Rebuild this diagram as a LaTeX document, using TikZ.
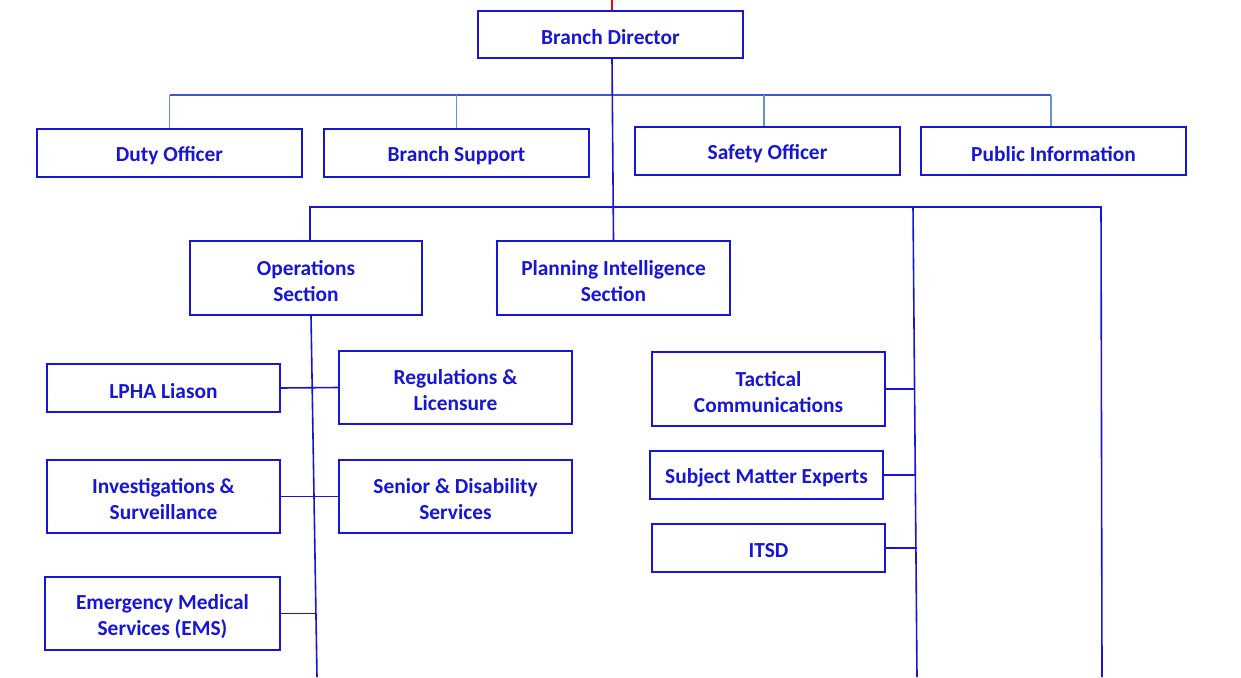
\documentclass[tikz,border=0pt]{standalone}
\usepackage{fontspec}
\setmainfont{Carlito}
\definecolor{boxblue}{RGB}{22,22,212}
\definecolor{dropblue}{RGB}{100,150,205}
\definecolor{busblue}{RGB}{60,85,210}
\newcommand{\dnl}[1]{\raisebox{-3pt}[\height][\depth]{#1}}
\tikzset{
  orgbox/.style={draw=boxblue, line width=2pt, fill=white, text=boxblue, align=center,
    font=\fontsize{21.4}{26}\selectfont\bfseries, inner sep=0pt},
  wide/.style={minimum width=265pt, minimum height=47pt},
  narrow/.style={minimum width=233pt, minimum height=48pt},
  tall/.style={minimum width=233pt, minimum height=73pt},
  conn/.style={draw=boxblue, line width=1.6pt},
  busline/.style={draw=busblue, line width=1.6pt},
  dropline/.style={draw=dropblue, line width=1.6pt},
}
\begin{document}
\begin{tikzpicture}[x=1pt,y=-1pt]
\useasboundingbox (0,0) rectangle (1241,677);
% nodes
\node[orgbox,wide] (bd) at (610.5,34.5) {\dnl{Branch Director}};
\node[orgbox,wide,minimum height=48pt] (duty) at (169.5,153) {\dnl{Duty Officer}};
\node[orgbox,wide,minimum height=48pt] (bsup) at (456.5,153) {\dnl{Branch Support}};
\node[orgbox,wide,minimum height=48pt] (safety) at (767.5,151) {\dnl{Safety Officer}};
\node[orgbox,wide,minimum height=48pt] (pub) at (1053.5,151) {\dnl{Public Information}};
\node[orgbox,tall,minimum width=232pt,minimum height=74pt] (ops) at (306,278) {\dnl{Operations}\\\dnl{Section}};
\node[orgbox,tall,minimum height=74pt] (plan) at (613.5,278) {\dnl{Planning Intelligence}\\\dnl{Section}};
\node[orgbox,narrow] (lpha) at (163.5,388) {\dnl{LPHA Liason}};
\node[orgbox,tall] (reg) at (455.5,387.5) {\dnl{Regulations \&}\\\dnl{Licensure}};
\node[orgbox,tall] (inv) at (163.5,496.5) {\dnl{Investigations \&}\\\dnl{Surveillance}};
\node[orgbox,tall] (sen) at (455.5,496.5) {\dnl{Senior \& Disability}\\\dnl{Services}};
\node[orgbox,tall,minimum width=235pt] (ems) at (162.5,613.5) {\dnl{Emergency Medical}\\\dnl{Services (EMS)}};
\node[orgbox,tall,minimum height=74pt] (tac) at (768.5,389) {\dnl{Tactical}\\\dnl{Communications}};
\node[orgbox,narrow] (sme) at (766.5,475) {\dnl{Subject Matter Experts}};
\node[orgbox,narrow] (itsd) at (768.5,548) {\dnl{ITSD}};
% coordinates
\coordinate (top) at (612,0);
\coordinate (busA) at (0,95);
\coordinate (colM) at (913,207);
\coordinate (colMb) at (917,677);
\coordinate (colR) at (1101,207);
\coordinate (colRb) at (1102,677);
\coordinate (opsb) at (317,677);
\coordinate (opsx) at (316,0);
\coordinate (tx1) at (915,0);
\coordinate (tx2) at (916,0);
\coordinate (tx3) at (917,0);
% connectors
\draw[red, line width=1.6pt] (top) -- (top |- bd.north);
\draw[busline] (duty.north |- busA) -- ([xshift=-2.5pt]pub.north |- busA);
\draw[dropline] (duty.north) -- (duty.north |- busA);
\draw[dropline] (bsup.north) -- (bsup.north |- busA);
\draw[dropline] ([xshift=-3.5pt]safety.north) -- ([xshift=-3.5pt]safety.north |- busA);
\draw[dropline] ([xshift=-2.5pt]pub.north) -- ([xshift=-2.5pt]pub.north |- busA);
\draw[conn] ([xshift=1.5pt]bd.south) -- (plan.north);
\draw[conn] ([xshift=4pt]ops.north) |- (colR) -- (colRb);
\draw[conn] (colM) -- (colMb);
\draw[conn] ([xshift=5pt]ops.south) -- (opsb);
\draw[conn] (lpha.east) -- (reg.west);
\draw[conn] (inv.east) -- (sen.west);
\draw[conn] (ems.east) -- (ems.east -| opsx);
\draw[conn] (tac.east) -- (tac.east -| tx1);
\draw[conn] (sme.east) -- (sme.east -| tx2);
\draw[conn] (itsd.east) -- (itsd.east -| tx3);
\end{tikzpicture}
\end{document}
